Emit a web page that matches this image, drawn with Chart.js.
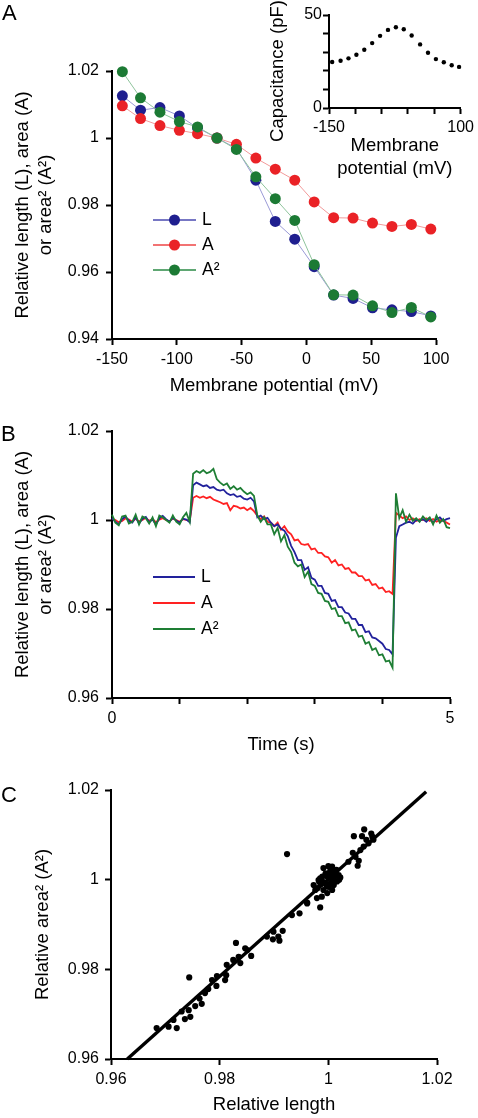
<!DOCTYPE html>
<html><head><meta charset="utf-8">
<script src="https://cdn.jsdelivr.net/npm/chart.js@4/dist/chart.umd.min.js"></script>
<style>
html,body{margin:0;padding:0;background:#fff;width:478px;height:1118px;overflow:hidden;position:relative;}
canvas{position:absolute;}
.lbl{position:absolute;font:22px "Liberation Sans",Arial,sans-serif;line-height:22px;color:#000;}
</style></head><body>
<canvas id="cA" width="478" height="397" style="left:0;top:0"></canvas>
<canvas id="cI" width="228" height="180" style="left:250px;top:0"></canvas>
<canvas id="cB" width="478" height="356" style="left:0;top:400px"></canvas>
<canvas id="cC" width="478" height="356" style="left:0;top:760px"></canvas>
<div class="lbl" style="left:2px;top:2px">A</div>
<div class="lbl" style="left:1px;top:423px">B</div>
<div class="lbl" style="left:1px;top:784px">C</div>
<script>
// ---------- DATA ----------
const seriesNames = ['L', 'A', 'A²'];
// Panel A: relative length / area / area² vs membrane potential
const aPotential = [-142,-128,-113,-98,-84,-69,-54,-39,-24,-9,6,21,36,51,66,81,96];
const aL  = [1.0126,1.0083,1.0091,1.0066,1.0030,1.0000,0.9969,0.9874,0.9751,0.9698,0.9616,0.9531,0.9521,0.9493,0.9487,0.9482,0.9469];
const aA  = [1.0096,1.0058,1.0037,1.0023,1.0013,1.0000,0.9981,0.9940,0.9907,0.9874,0.9809,0.9762,0.9761,0.9746,0.9736,0.9742,0.9728];
const aA2 = [1.0198,1.0120,1.0077,1.0049,1.0033,1.0000,0.9966,0.9884,0.9819,0.9754,0.9622,0.9532,0.9531,0.9499,0.9479,0.9494,0.9466];
const aXTicks = [-150,-100,-50,0,50,100];
const aXTickLabels = ['-150','-100','-50','0','50','100'];
const aYTicks = [0.94,0.96,0.98,1,1.02];
const aYTickLabels = ['0.94','0.96','0.98','1','1.02'];

// Inset: capacitance vs membrane potential
const capPotential = [-144,-128,-113,-98,-83,-68,-53,-38,-23,-8,7,23,38,53,68,83,97];
const capValues = [24.7,25.4,26.7,28.6,31.3,34.9,38.8,42.0,43.4,42.3,39.0,34.2,29.7,26.3,24.6,23.0,22.1];
const capXTicks = [-150,-100,-50,0,50,100];
const capXTickLabels = ['-150','','','','','100'];
const capYTicks = [0,10,20,30,40,50];
const capYTickLabels = ['0','','','','','50'];

// Panel B: time courses
const bTime = [0,0.05,0.1,0.15,0.2,0.25,0.3,0.35,0.4,0.45,0.5,0.55,0.6,0.65,0.7,0.75,0.8,0.85,0.9,0.95,
 1,1.05,1.1,1.15,1.2,1.25,1.3,1.35,1.4,1.45,1.5,1.55,1.6,1.65,1.7,1.75,1.8,1.85,1.9,1.95,
 2,2.05,2.1,2.15,2.2,2.25,2.3,2.35,2.4,2.45,2.5,2.55,2.6,2.65,2.7,2.75,2.8,2.85,2.9,2.95,
 3,3.05,3.1,3.15,3.2,3.25,3.3,3.35,3.4,3.45,3.5,3.55,3.6,3.65,3.7,3.75,3.8,3.85,3.9,3.95,
 4,4.05,4.1,4.15,4.2,4.25,4.3,4.35,4.4,4.45,4.5,4.55,4.6,4.65,4.7,4.75,4.8,4.85,4.9,4.95,5];
const bL = [1.0004,0.9996,0.9990,1.0002,1.0008,0.9998,0.9994,1.0006,0.9992,1.0003,1.0007,0.9995,1.0001,0.9990,1.0004,1.0009,1.0002,0.9996,1.0005,0.9999,0.9994,1.0003,1.0001,0.9995,
 1.0078,1.0084,1.0080,1.0076,1.0078,1.0072,1.0074,1.0068,1.0066,1.0068,1.0060,1.0056,1.0058,1.0052,1.0054,1.0048,1.0046,1.0050,1.0042,
 1.0006,1.0010,1.0002,1.0005,0.9994,0.9986,0.9990,0.9980,0.9976,
 0.9964,0.9942,0.9928,0.9910,0.9910,0.9888,0.9894,0.9870,0.9866,0.9852,0.9852,0.9836,0.9834,0.9818,0.9820,0.9804,0.9804,0.9792,0.9790,0.9778,0.9778,0.9764,0.9764,0.9748,0.9750,0.9736,0.9734,0.9728,0.9722,0.9710,0.9708,0.9698,
 0.9960,0.9986,0.9990,0.9994,0.9996,0.9992,1.0000,0.9998,1.0002,0.9996,1.0004,0.9994,1.0002,1.0006,0.9998,1.0002,1.0004];
const bA = [1.0003,1.0000,0.9995,0.9998,1.0004,1.0001,0.9996,1.0003,0.9997,1.0000,1.0005,0.9998,1.0002,0.9995,1.0001,1.0004,1.0000,0.9997,1.0003,1.0000,0.9996,1.0002,1.0000,0.9998,
 1.0050,1.0054,1.0050,1.0053,1.0049,1.0052,1.0046,1.0043,1.0040,1.0036,1.0038,1.0022,1.0032,1.0030,1.0026,1.0028,1.0022,1.0027,1.0020,
 1.0010,1.0002,1.0008,0.9996,0.9994,0.9986,0.9994,0.9978,0.9986,0.9974,0.9968,0.9954,0.9956,0.9946,0.9944,0.9946,0.9934,0.9936,0.9926,0.9926,0.9918,0.9916,0.9904,0.9910,0.9898,0.9900,0.9890,0.9892,0.9882,0.9882,0.9874,0.9874,0.9864,0.9866,0.9854,0.9856,0.9846,0.9848,0.9838,0.9840,0.9834,
 1.0016,1.0010,1.0004,1.0008,1.0000,1.0004,0.9998,1.0002,1.0000,1.0004,0.9998,1.0002,0.9996,1.0000,0.9998,0.9994,0.9990];
const bA2 = [1.0012,0.9994,0.9988,1.0008,1.0010,0.9992,0.9996,1.0012,0.9990,1.0008,1.0004,0.9992,1.0006,0.9986,1.0010,1.0006,1.0000,0.9994,1.0010,0.9996,0.9990,1.0006,1.0016,0.9996,
 1.0104,1.0110,1.0106,1.0112,1.0105,1.0108,1.0115,1.0092,1.0084,1.0078,1.0082,1.0070,1.0076,1.0068,1.0072,1.0064,1.0058,1.0062,1.0054,
 1.0010,0.9996,1.0006,0.9990,0.9990,0.9968,0.9982,0.9952,0.9966,0.9940,0.9928,0.9904,0.9896,0.9900,0.9872,0.9884,0.9856,0.9852,0.9836,0.9834,0.9818,0.9816,0.9800,0.9802,0.9784,0.9784,0.9768,0.9770,0.9752,0.9754,0.9738,0.9740,0.9722,0.9726,0.9708,0.9712,0.9696,0.9698,0.9682,0.9684,0.9668,
 1.0060,1.0004,1.0022,0.9996,1.0012,0.9998,1.0004,0.9996,1.0008,1.0000,1.0006,0.9990,1.0010,0.9994,1.0002,0.9984,0.9982];
const bXTicks = [0,1,2,3,4,5];
const bXTickLabels = ['0','','','','','5'];
const bYTicks = [0.96,0.98,1,1.02];
const bYTickLabels = ['0.96','0.98','1','1.02'];

// Panel C: relative area² vs relative length
const cLength = [0.9684,0.9706,0.9721,0.9715,0.9736,0.9730,0.9746,0.9744,0.9743,0.9755,0.9767,0.9763,0.9773,0.9779,0.9786,0.9794,0.9795,0.9810,0.9812,0.9813,
 0.9830,0.9825,0.9835,0.9838,0.9847,0.9851,0.9858,0.9887,0.9899,0.9898,0.9908,0.9910,0.9916,0.9933,0.9947,0.9961,
 0.9924,0.9961,0.9985,0.9979,0.9988,0.9973,0.9982,0.9991,0.9998,1.0004,1.0010,1.0001,0.9991,1.0013,1.0019,1.0007,0.9998,0.9976,0.9985,0.9994,
 1.0016,1.0022,1.0004,1.0010,1.0037,1.0045,1.0056,1.0054,1.0047,1.0062,1.0066,1.0070,1.0074,1.0079,1.0083,1.0081,1.0065,1.0059,1.0050,
 0.9989,0.9995,0.9983,1.0007,0.9980,1.0014,1.0020,
 0.9995,1.0002,1.0008,0.9990,1.0005,1.0012,0.9997,1.0015,1.0000,0.9986];
const cArea2 = [0.9669,0.9672,0.9669,0.9687,0.9689,0.9706,0.9694,0.9782,0.9709,0.9718,0.9723,0.9735,0.9747,0.9756,0.9776,0.9763,0.9785,0.9776,0.9787,0.9810,
 0.9859,0.9821,0.9828,0.9814,0.9847,0.9843,0.9830,0.9873,0.9884,0.9867,0.9873,0.9864,0.9886,0.9921,0.9925,0.9947,
 1.0057,0.9949,0.9938,0.9959,0.9962,0.9988,0.9999,1.0026,1.0007,1.0022,1.0003,0.9984,0.9977,1.0018,1.0010,0.9977,0.9970,0.9977,1.0003,0.9992,
 0.9996,1.0005,0.9992,0.9988,1.0040,1.0060,1.0042,1.0031,1.0097,1.0097,1.0112,1.0089,1.0081,1.0103,1.0089,1.0096,1.0074,1.0066,1.0051,
 1.0007,1.0014,0.9996,1.0029,0.9981,1.0010,1.0000,
 1.0010,1.0015,1.0012,0.9995,1.0003,0.9996,0.9985,1.0022,1.0030,0.9990];
const cFitX = [0.963, 1.018];
const cFitY = [0.960, 1.0196];
const cTicks = [0.96,0.98,1,1.02];
const cTickLabels = ['0.96','0.98','1','1.02'];

// ---------- STYLE / HELPERS ----------
const FONT = '"Liberation Sans", Arial, Helvetica, sans-serif';
Chart.defaults.font.family = FONT;
Chart.defaults.color = '#000';
Chart.defaults.animation = false;

const zip = (xs, ys) => xs.map((x, i) => ({x: x, y: ys[i]}));

function axis(o) {
  return {
    type: 'linear', position: o.position, min: o.min, max: o.max,
    afterBuildTicks: s => { s.ticks = o.ticks.map(v => ({value: v})); },
    afterFit: s => { if (o.position === 'left') s.width = o.size; else s.height = o.size; },
    ticks: { callback: (v, i) => o.labels[i], font: {size: 16}, padding: o.pad, autoSkip: false, maxRotation: 0, minRotation: 0, color: '#000' },
    grid: { drawOnChartArea: false, drawTicks: true, tickLength: 6, tickWidth: 2, tickColor: '#000' },
    border: { display: true, color: '#000', width: 2 },
    title: { display: true, text: o.title, font: {size: 18.5, lineHeight: 1.22}, padding: o.titlePad, color: '#000' }
  };
}

const customLegend = {
  id: 'customLegend',
  afterDraw(chart, args, opts) {
    if (!opts || !opts.items) return;
    const ctx = chart.ctx;
    ctx.save();
    opts.items.forEach((it, i) => {
      const y = opts.y + i * opts.dy;
      ctx.strokeStyle = it.line; ctx.lineWidth = opts.lineWidth;
      ctx.beginPath(); ctx.moveTo(opts.x1, y); ctx.lineTo(opts.x2, y); ctx.stroke();
      if (it.marker) {
        ctx.fillStyle = it.marker; ctx.beginPath();
        ctx.arc((opts.x1 + opts.x2) / 2, y, opts.r, 0, Math.PI * 2); ctx.fill();
      }
      ctx.fillStyle = '#000'; ctx.font = '17.5px ' + FONT;
      ctx.textBaseline = 'middle'; ctx.textAlign = 'left';
      ctx.fillText(it.text, opts.tx, y);
    });
    ctx.restore();
  }
};
const freeText = {
  id: 'freeText',
  afterDraw(chart, args, opts) {
    if (!opts || !opts.items) return;
    const ctx = chart.ctx;
    opts.items.forEach(it => {
      ctx.save(); ctx.translate(it.x, it.y); ctx.rotate(it.rot || 0);
      ctx.font = it.font; ctx.fillStyle = '#000'; ctx.textAlign = 'center'; ctx.textBaseline = 'middle';
      ctx.fillText(it.text, 0, 0); ctx.restore();
    });
  }
};

const COL = {
  L:  {mark: '#1f1f8f', line: '#9a9ad6', trace: '#22229c'},
  A:  {mark: '#ea2226', line: '#f29a9a', trace: '#ff2222'},
  A2: {mark: '#1c7a34', line: '#8fc49c', trace: '#1e7e34'}
};

// ---------- PANEL A ----------
function markerSet(label, ys, c, order) {
  return { label, data: zip(aPotential, ys), showLine: true, borderColor: c.line, borderWidth: 1,
    pointRadius: 5.5, pointBackgroundColor: c.mark, pointBorderWidth: 0, order, clip: false };
}
new Chart(document.getElementById('cA'), {
  type: 'scatter',
  data: { datasets: [
    markerSet(seriesNames[0], aL, COL.L, 2),
    markerSet(seriesNames[1], aA, COL.A, 1),
    markerSet(seriesNames[2], aA2, COL.A2, 0)
  ]},
  options: {
    responsive: false, animation: false,
    layout: { padding: {left: 0, top: 71, right: 42, bottom: 0} },
    scales: {
      x: axis({position: 'bottom', min: -150, max: 100, ticks: aXTicks, labels: aXTickLabels, size: 58, pad: 5,
               title: 'Membrane potential (mV)', titlePad: {top: 0, bottom: 0}}),
      y: axis({position: 'left', min: 0.94, max: 1.02, ticks: aYTicks, labels: aYTickLabels, size: 112, pad: 7,
               title: ['Relative length (L), area (A)', 'or area² (A²)'], titlePad: {top: 12, bottom: 0}})
    },
    plugins: {
      legend: {display: false}, tooltip: {enabled: false},
      customLegend: { x1: 153, x2: 196, tx: 202, y: 220, dy: 25, r: 5.5, lineWidth: 1.5,
        items: [
          {text: seriesNames[0], line: '#4a4ab0', marker: COL.L.mark},
          {text: seriesNames[1], line: '#ee4444', marker: COL.A.mark},
          {text: seriesNames[2], line: '#2a8a44', marker: COL.A2.mark}
        ] }
    }
  },
  plugins: [customLegend]
});

// ---------- INSET ----------
const insetX = axis({position: 'bottom', min: -150, max: 100, ticks: capXTicks, labels: capXTickLabels, size: 72, pad: 4,
                     title: ['Membrane', 'potential (mV)'], titlePad: {top: 0, bottom: 0}});
insetX.title.font = {size: 18.5, lineHeight: 1.24};
const insetY = axis({position: 'left', min: 0, max: 50, ticks: capYTicks, labels: capYTickLabels, size: 79, pad: 1,
                     title: '', titlePad: 0});
insetY.title.display = false;
new Chart(document.getElementById('cI'), {
  type: 'scatter',
  data: { datasets: [{ label: 'Capacitance', data: zip(capPotential, capValues), showLine: false,
    pointRadius: 2.2, pointBackgroundColor: '#000', pointBorderWidth: 0, clip: false }]},
  options: {
    responsive: false, animation: false,
    layout: { padding: {left: 0, top: 15, right: 14, bottom: 0} },
    scales: { x: insetX, y: insetY },
    plugins: {
      legend: {display: false}, tooltip: {enabled: false},
      freeText: { items: [{text: 'Capacitance (pF)', x: 28, y: 71, rot: -Math.PI / 2, font: '18.5px ' + FONT}] }
    }
  },
  plugins: [freeText]
});

// ---------- PANEL B ----------
function traceSet(label, ys, color, order) {
  return { label, data: zip(bTime, ys), showLine: true, borderColor: color, borderWidth: 1.8,
    pointRadius: 0, order, clip: false, tension: 0 };
}
new Chart(document.getElementById('cB'), {
  type: 'scatter',
  data: { datasets: [
    traceSet(seriesNames[0], bL, COL.L.trace, 1),
    traceSet(seriesNames[1], bA, COL.A.trace, 2),
    traceSet(seriesNames[2], bA2, COL.A2.trace, 0)
  ]},
  options: {
    responsive: false, animation: false,
    layout: { padding: {left: 0, top: 31, right: 28, bottom: 0} },
    scales: {
      x: axis({position: 'bottom', min: 0, max: 5, ticks: bXTicks, labels: bXTickLabels, size: 58, pad: 5,
               title: 'Time (s)', titlePad: {top: 0, bottom: 0}}),
      y: axis({position: 'left', min: 0.96, max: 1.02, ticks: bYTicks, labels: bYTickLabels, size: 112, pad: 7,
               title: ['Relative length (L), area (A)', 'or area² (A²)'], titlePad: {top: 12, bottom: 0}})
    },
    plugins: {
      legend: {display: false}, tooltip: {enabled: false},
      customLegend: { x1: 153, x2: 195, tx: 201, y: 177, dy: 26, r: 0, lineWidth: 2,
        items: [
          {text: seriesNames[0], line: COL.L.trace},
          {text: seriesNames[1], line: COL.A.trace},
          {text: seriesNames[2], line: COL.A2.trace}
        ] }
    }
  },
  plugins: [customLegend]
});

// ---------- PANEL C ----------
new Chart(document.getElementById('cC'), {
  type: 'scatter',
  data: { datasets: [
    { label: 'fit', data: zip(cFitX, cFitY), showLine: true, borderColor: '#000', borderWidth: 3.4, pointRadius: 0, order: 0, clip: false },
    { label: 'points', data: zip(cLength, cArea2), showLine: false, pointRadius: 3.1, pointBackgroundColor: '#000', pointBorderWidth: 0, order: 1, clip: false }
  ]},
  options: {
    responsive: false, animation: false,
    layout: { padding: {left: 0, top: 30, right: 41, bottom: 0} },
    scales: {
      x: axis({position: 'bottom', min: 0.96, max: 1.02, ticks: cTicks, labels: cTickLabels, size: 57, pad: 5,
               title: 'Relative length', titlePad: {top: 0, bottom: 0}}),
      y: axis({position: 'left', min: 0.96, max: 1.02, ticks: cTicks, labels: cTickLabels, size: 111, pad: 6,
               title: 'Relative area² (A²)', titlePad: {top: 32, bottom: 0}})
    },
    plugins: { legend: {display: false}, tooltip: {enabled: false} }
  }
});
</script>
</body></html>
